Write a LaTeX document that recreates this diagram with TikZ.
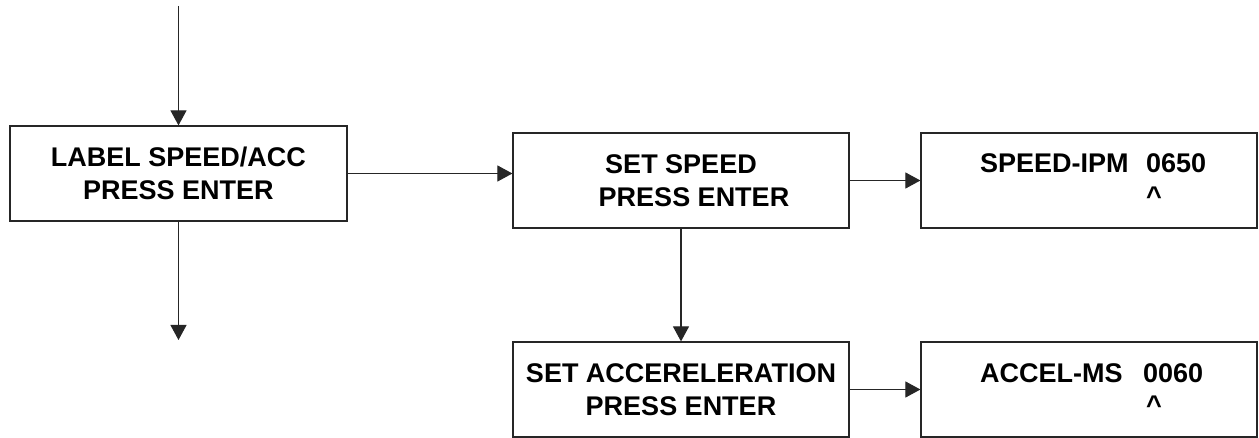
\documentclass[tikz,border=0pt]{standalone}
\usepackage{fontspec}
\setmainfont{Liberation Sans}
\usetikzlibrary{arrows.meta}
\tikzset{
  box/.style={draw=black!85, line width=1.2pt, minimum width=336pt, minimum height=95pt,
    inner sep=0pt, align=center, font=\fontsize{27}{32.5}\selectfont\bfseries},
  txt/.style={inner sep=0pt, anchor=base west, font=\fontsize{27}{32.5}\selectfont\bfseries},
  arr/.style={draw=black!85, line width=1.1pt, -{Triangle[length=15pt,width=16pt]}}
}
\begin{document}
\begin{tikzpicture}[x=1pt,y=-1pt]
\useasboundingbox (0,0) rectangle (1259,438);
% boxes
\node[box, minimum width=337pt] (b1) at (178.5,173.5) {LABEL SPEED/ACC\\PRESS ENTER};
\node[box] (b2) at (681,180.5) {SET SPEED\\\hspace*{26pt}PRESS ENTER};
\node[box] (b3) at (1089,180.5) {};
\node[box] (b4) at (681,389.5) {SET ACCERELERATION\\PRESS ENTER};
\node[box] (b5) at (1089,389.5) {};
% display texts
\node[txt] (t3a) at (980,173) {SPEED-IPM};
\node[txt] (t3b) at (1146,173) {0650};
\node[txt] (t3c) at (1146,205.5) {\^{}};
\node[txt] (t5a) at (980,382) {ACCEL-MS};
\node[txt] (t5b) at (1143,382) {0060};
\node[txt] (t5c) at (1146,414.5) {\^{}};
% free ends
\coordinate (in) at (178.5,6);
\coordinate (out) at (178.5,340);
% connectors
\draw[arr] (in) -- (b1.north);
\draw[arr] (b1.south) -- (out);
\draw[arr] (b1.east) -- (b1.east -| b2.west);
\draw[arr] (b2.east) -- (b3.west);
\draw[arr] (b2.south) -- (b4.north);
\draw[arr] (b4.east) -- (b5.west);
\end{tikzpicture}
\end{document}
